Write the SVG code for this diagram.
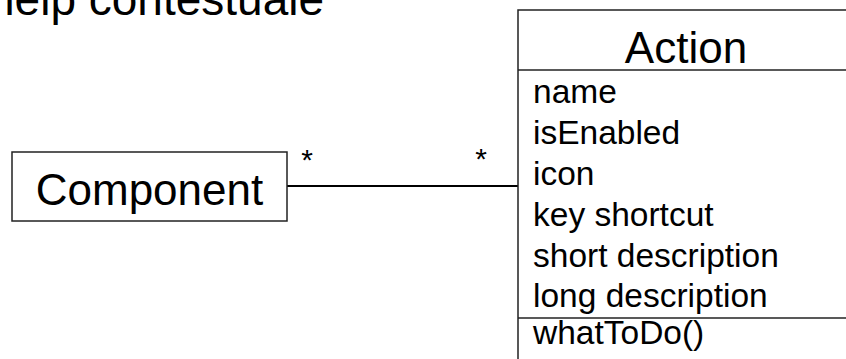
<svg xmlns="http://www.w3.org/2000/svg" width="846" height="359" viewBox="0 0 846 359">
  <style>
    text { font-family: "Liberation Sans", Arial, sans-serif; fill: #000; }
    .box { fill: #fff; stroke: #222; stroke-width: 1.5; }
    .sep { stroke: #222; stroke-width: 1.5; }
    .title { font-size: 46px; }
    .name { font-size: 44px; }
    .attr { font-size: 33.5px; }
    .mult { font-size: 30px; }
    .assoc { stroke: #000; stroke-width: 2.2; fill: none; }
  </style>
  <rect width="846" height="359" fill="#fff"/>

  <!-- slide heading, partly above the top edge -->
  <text id="title" class="title" x="-11" y="15">help contestuale</text>

  <g id="connectors">
    <line class="assoc" x1="287" y1="186" x2="518" y2="186"/>
    <text class="mult" x="307" y="170" text-anchor="middle">*</text>
    <text class="mult" x="481" y="169" text-anchor="middle">*</text>
  </g>

  <g id="component">
    <rect class="box" x="12" y="152" width="275" height="69"/>
    <text class="name" x="149.5" y="205" text-anchor="middle">Component</text>
  </g>

  <g id="action">
    <rect class="box" x="518" y="10" width="345" height="370"/>
    <line class="sep" x1="518" y1="70" x2="846" y2="70"/>
    <text class="name" x="686" y="63" text-anchor="middle">Action</text>
    <text class="attr" x="533" y="103">name</text>
    <text class="attr" x="533" y="144">isEnabled</text>
    <text class="attr" x="533" y="185">icon</text>
    <text class="attr" x="533" y="226">key shortcut</text>
    <text class="attr" x="533" y="267">short description</text>
    <text class="attr" x="533" y="307">long description</text>
    <line class="sep" x1="518" y1="318" x2="846" y2="318" stroke-width="2.2"/>
    <text class="attr" x="533" y="344">whatToDo()</text>
  </g>
</svg>
